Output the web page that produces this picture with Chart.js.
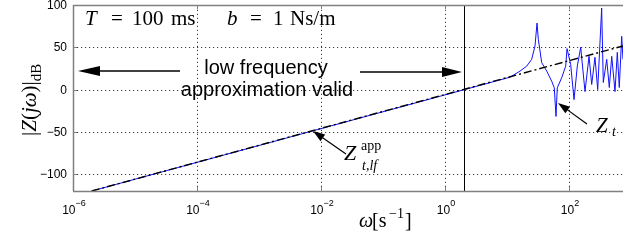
<!DOCTYPE html>
<html>
<head>
<meta charset="utf-8">
<script src="https://cdn.jsdelivr.net/npm/chart.js@4"></script>
<style>
html, body { margin: 0; padding: 0; background: #fff; }
#wrap { width: 623px; height: 242px; }
</style>
</head>
<body>
<div id="wrap"><canvas id="myChart" width="623" height="242"></canvas></div>
<script>
// omega in s^-1, magnitude in dB
var approxW = [2e-6, 743]
var approxDb = [-120, 51.6]

var ztW = [2e-6, 11.2, 16.2, 20.8, 25, 28.3, 30.5, 32, 36.3, 43.7, 52.6, 57.9, 61.7, 64.7, 76.2, 88.5, 92.9,
	106.4, 120.5, 136.1, 154.5, 181.1, 210.4, 232.3, 262.4, 290.4, 336.5, 357.3, 405.5, 446.7, 488.7,
	552.1, 601.2, 647.1, 707.9, 743]
var ztDb = [-120, 14.6, 21.8, 27.7, 35.7, 51.5, 78.6, 59.5, 31.8, 21.8, 9.9, 2, -31.8, 2, 13.9, 27.7, 48.4,
	29.8, -11.9, 27.7, 50, -2.4, 39.3, 6, 38.1, 0, 96.4, 8.3, 35.7, 2.4, 39.3,
	-2.4, 44, 2.4, 63, 35.7]

var xTicks = [1e-6, 1e-4, 1e-2, 1, 100]
var xTickExp = ['\u22126', '\u22124', '\u22122', '0', '2']
var yTicks = [-100, -50, 0, 50, 100]
var validLimit = 2   // vertical line, end of the low frequency range

function toPoints(xs, ys) {
	return xs.map(function (x, i) { return { x: x, y: ys[i] } })
}

var serif = '"Liberation Serif", "DejaVu Serif", serif'
var sans = '"Liberation Sans", Arial, sans-serif'
var axisGray = '#808080'

function arrow(ctx, x1, y1, x2, y2, len, half) {
	var a = Math.atan2(y2 - y1, x2 - x1)
	ctx.beginPath()
	ctx.moveTo(x1, y1)
	ctx.lineTo(x2 - Math.cos(a) * len * 0.8, y2 - Math.sin(a) * len * 0.8)
	ctx.stroke()
	ctx.beginPath()
	ctx.moveTo(x2, y2)
	ctx.lineTo(x2 - Math.cos(a) * len - Math.sin(a) * half, y2 - Math.sin(a) * len + Math.cos(a) * half)
	ctx.lineTo(x2 - Math.cos(a) * len + Math.sin(a) * half, y2 - Math.sin(a) * len - Math.cos(a) * half)
	ctx.closePath()
	ctx.fill()
}

var decorations = {
	id: 'decorations',
	beforeDatasetsDraw: function (chart) {
		var ctx = chart.ctx
		var area = chart.chartArea
		var xs = chart.scales.x
		var ys = chart.scales.y
		ctx.save()
		// dotted grid, matlab style
		ctx.strokeStyle = '#3a3a3a'
		ctx.lineWidth = 1
		ctx.setLineDash([1.2, 2.8])
		ctx.beginPath()
		xTicks.forEach(function (v) {
			if (v === xs.min) return
			var px = Math.round(xs.getPixelForValue(v)) + 0.5
			ctx.moveTo(px, area.bottom)
			ctx.lineTo(px, area.top)
		})
		yTicks.forEach(function (v) {
			if (v === ys.max) return
			var py = Math.round(ys.getPixelForValue(v)) + 0.5
			ctx.moveTo(area.left, py)
			ctx.lineTo(area.right, py)
		})
		ctx.stroke()
		ctx.setLineDash([])
		// vertical line at the validity limit
		var vx = Math.round(xs.getPixelForValue(validLimit)) + 0.5
		ctx.strokeStyle = '#000'
		ctx.beginPath()
		ctx.moveTo(vx, area.top)
		ctx.lineTo(vx, area.bottom)
		ctx.stroke()
		ctx.restore()
	},
	afterDraw: function (chart) {
		var ctx = chart.ctx
		var area = chart.chartArea
		var xs = chart.scales.x
		var ys = chart.scales.y
		ctx.save()

		// frame and inward ticks
		ctx.strokeStyle = axisGray
		ctx.lineWidth = 1.5
		ctx.beginPath()
		ctx.moveTo(area.left, area.top + 0.5)
		ctx.lineTo(area.right, area.top + 0.5)
		ctx.moveTo(area.left + 0.5, area.top)
		ctx.lineTo(area.left + 0.5, area.bottom)
		ctx.moveTo(area.left, area.bottom + 0.5)
		ctx.lineTo(area.right, area.bottom + 0.5)
		ctx.stroke()
		ctx.lineWidth = 1
		ctx.beginPath()
		xTicks.forEach(function (v) {
			var px = Math.round(xs.getPixelForValue(v)) + 0.5
			ctx.moveTo(px, area.bottom)
			ctx.lineTo(px, area.bottom - 4)
			ctx.moveTo(px, area.top)
			ctx.lineTo(px, area.top + 4)
		})
		yTicks.forEach(function (v) {
			var py = Math.round(ys.getPixelForValue(v)) + 0.5
			ctx.moveTo(area.left, py)
			ctx.lineTo(area.left + 4, py)
		})
		ctx.stroke()

		// tick labels
		ctx.fillStyle = '#000'
		ctx.textBaseline = 'alphabetic'
		xTicks.forEach(function (v, i) {
			var px = xs.getPixelForValue(v)
			ctx.font = '12px ' + sans
			var w1 = ctx.measureText('10').width
			ctx.font = '9px ' + sans
			var w2 = ctx.measureText(xTickExp[i]).width
			var x0 = px - (w1 + w2) / 2 + 1
			ctx.font = '12px ' + sans
			ctx.textAlign = 'left'
			ctx.fillText('10', x0, area.bottom + 23)
			ctx.font = '9px ' + sans
			ctx.fillText(xTickExp[i], x0 + w1, area.bottom + 15)
		})
		ctx.font = '12px ' + sans
		ctx.textAlign = 'right'
		yTicks.forEach(function (v) {
			var py = ys.getPixelForValue(v)
			ctx.fillText(String(v).replace('-', '\u2212'), area.left - 6, py + 4)
		})

		ctx.textAlign = 'left'
		// header text
		ctx.font = 'italic 21px ' + serif
		ctx.fillText('T', 85, 25)
		ctx.font = '21px ' + serif
		ctx.fillText('=', 111, 25)
		ctx.fillText('100', 132, 25)
		ctx.fillText('ms', 171, 25)
		ctx.font = 'italic 21px ' + serif
		ctx.fillText('b', 227, 25)
		ctx.font = '21px ' + serif
		ctx.fillText('=', 250, 25)
		ctx.fillText('1', 273, 25)
		ctx.fillText('Ns/m', 290, 25)

		// low frequency note and arrows
		ctx.font = '20px ' + sans
		ctx.textAlign = 'center'
		ctx.fillText('low frequency', 266, 74)
		ctx.fillText('approximation valid', 267, 96)
		ctx.strokeStyle = '#000'
		ctx.fillStyle = '#000'
		ctx.lineWidth = 1.5
		arrow(ctx, 180, 71, 78, 71, 22, 5)
		arrow(ctx, 360, 72, 462, 72, 20, 5)
		ctx.lineWidth = 1.2
		arrow(ctx, 346, 154, 313, 131, 12, 4)
		arrow(ctx, 587, 124, 558, 103, 12, 4)

		// series labels
		ctx.textAlign = 'left'
		ctx.font = 'italic 22px ' + serif
		ctx.fillText('Z', 344, 160)
		ctx.font = '14px ' + serif
		ctx.fillText('app', 361, 150)
		ctx.font = 'italic 14px ' + serif
		ctx.fillText('t,lf', 362, 170)
		ctx.font = 'italic 21px ' + serif
		ctx.fillText('Z', 596, 132)
		ctx.font = 'italic 14px ' + serif
		ctx.fillText('t', 612, 136)

		// x axis title
		ctx.font = 'italic 20px ' + serif
		ctx.fillText('\u03c9', 359, 227)
		ctx.font = '20px ' + serif
		ctx.fillText('[s', 372, 227)
		ctx.font = '14px ' + serif
		ctx.fillText('\u22121', 389, 218)
		ctx.font = '20px ' + serif
		ctx.fillText(']', 405, 227)

		// y axis title, rotated
		ctx.translate(36, 136)
		ctx.rotate(-Math.PI / 2)
		var x = 0
		function put(t, font, dy) {
			ctx.font = font
			ctx.fillText(t, x, dy || 0)
			x += ctx.measureText(t).width
		}
		put('|', '21px ' + serif)
		put('Z', 'italic 21px ' + serif)
		put('(', '21px ' + serif)
		put('j', 'italic 21px ' + serif)
		put('\u03c9', 'italic 21px ' + serif)
		put(')', '21px ' + serif)
		put('|', '21px ' + serif)
		put('dB', '15px ' + serif, 5)
		ctx.restore()
	}
}

var ctx = document.getElementById('myChart').getContext('2d')

var myChart = new Chart(ctx, {
	type: 'line',
	data: {
		datasets: [{
			label: 'Z_t,lf^app',
			data: toPoints(approxW, approxDb),
			borderColor: '#000',
			borderWidth: 1.4,
			borderDash: [8, 3, 2, 3],
			pointRadius: 0,
			order: 0
		}, {
			label: 'Z_t',
			data: toPoints(ztW, ztDb),
			borderColor: '#1010ff',
			borderWidth: 1,
			pointRadius: 0,
			order: 1
		}]
	},
	options: {
		responsive: false,
		animation: false,
		devicePixelRatio: 1,
		layout: { padding: { left: 0, top: 5, right: 0, bottom: 0 } },
		plugins: { legend: { display: false }, tooltip: { enabled: false } },
		scales: {
			x: {
				type: 'logarithmic',
				min: 1e-6,
				max: 743,
				afterBuildTicks: function (scale) {
					scale.ticks = xTicks.map(function (v) { return { value: v } })
				},
				afterFit: function (scale) { scale.height = 51 },
				ticks: { display: false },
				grid: { display: false, drawTicks: false },
				border: { display: false }
			},
			y: {
				min: -120,
				max: 100,
				afterBuildTicks: function (scale) {
					scale.ticks = yTicks.map(function (v) { return { value: v } })
				},
				afterFit: function (scale) { scale.width = 73 },
				ticks: { display: false },
				grid: { display: false, drawTicks: false },
				border: { display: false }
			}
		}
	},
	plugins: [decorations]
})
</script>
</body>
</html>
